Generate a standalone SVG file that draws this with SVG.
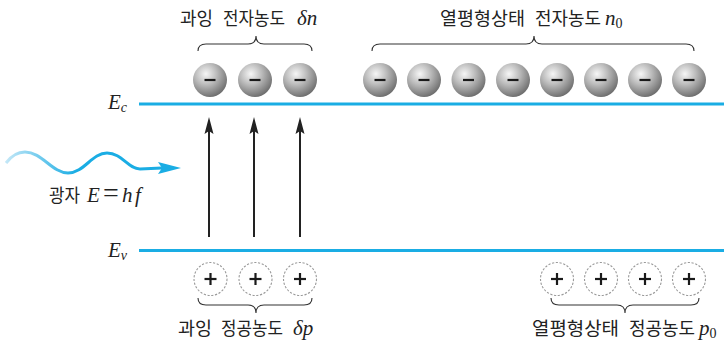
<svg xmlns="http://www.w3.org/2000/svg" width="724" height="345" viewBox="0 0 724 345">
<style>
.kr{font-family:"Noto Sans CJK KR","Noto Sans",sans-serif;font-size:18px;fill:#222}
.m{font-family:"Liberation Serif","Times New Roman",serif;font-style:italic;font-size:21px;fill:#222}
.r{font-family:"Liberation Serif","Times New Roman",serif;font-style:normal;fill:#222}
.lvl{stroke:#1aade4;stroke-width:3;fill:none}
.brace{stroke:#333;stroke-width:1.1;fill:none}
.hole{fill:#fff;stroke:#9a9a9a;stroke-width:1.1;stroke-dasharray:2.2 1.6}
.sign{stroke:#1a1a1a;stroke-width:2.2;fill:none}
.arr{stroke:#222;stroke-width:2;fill:none}
</style>
<defs>
<radialGradient id="ball" cx="0.38" cy="0.32" r="0.7">
<stop offset="0" stop-color="#f6f6f6"/>
<stop offset="0.45" stop-color="#bcbcbc"/>
<stop offset="1" stop-color="#6e6e6e"/>
</radialGradient>
<linearGradient id="wave" x1="0" y1="0" x2="1" y2="0">
<stop offset="0" stop-color="#c3e7f7"/>
<stop offset="0.45" stop-color="#1aade4"/>
<stop offset="1" stop-color="#1aade4"/>
</linearGradient>
<g id="e"><circle r="17" fill="url(#ball)"/><line x1="-5.5" y1="0" x2="5.5" y2="0" class="sign"/></g>
<g id="h"><circle r="16.5" class="hole"/><line x1="-6" y1="0" x2="6" y2="0" class="sign"/><line x1="0" y1="-6" x2="0" y2="6" class="sign"/></g>
</defs>
<rect width="724" height="345" fill="#fff"/>
<g id="levels">
<line x1="139" y1="104" x2="724" y2="104" class="lvl"/>
<line x1="139" y1="250.5" x2="724" y2="250.5" class="lvl"/>
<text class="m" x="108" y="109">E<tspan font-size="14" dy="3">c</tspan></text>
<text class="m" x="108" y="257">E<tspan font-size="14" dy="3">v</tspan></text>
</g>
<g id="excess-electrons">
<use href="#e" x="210" y="80"/><use href="#e" x="255" y="80"/><use href="#e" x="300" y="80"/>
<path class="brace" d="M198,51 Q198,44 206,44 L248,44 Q256,44 256,36 Q256,44 264,44 L304,44 Q312,44 312,51"/>
<text class="kr" x="180" y="25" textLength="33" lengthAdjust="spacingAndGlyphs">과잉</text>
<text class="kr" x="223" y="25" textLength="62" lengthAdjust="spacingAndGlyphs">전자농도</text>
<text class="m" x="297" y="25">δn</text>
</g>
<g id="equilibrium-electrons">
<use href="#e" x="380" y="80"/><use href="#e" x="424" y="80"/><use href="#e" x="468.5" y="80"/><use href="#e" x="513" y="80"/>
<use href="#e" x="557" y="80"/><use href="#e" x="601" y="80"/><use href="#e" x="645" y="80"/><use href="#e" x="689" y="80"/>
<path class="brace" d="M372,51 Q372,44 380,44 L526,44 Q534,44 534,36 Q534,44 542,44 L686,44 Q694,44 694,51"/>
<text class="kr" x="440" y="25" textLength="85" lengthAdjust="spacingAndGlyphs">열평형상태</text>
<text class="kr" x="535" y="25" textLength="66" lengthAdjust="spacingAndGlyphs">전자농도</text>
<text class="m" x="605" y="25">n<tspan class="r" font-size="14" dy="3">0</tspan></text>
</g>
<g id="excess-holes">
<use href="#h" x="210.5" y="279"/><use href="#h" x="255.5" y="279"/><use href="#h" x="300" y="279"/>
<path class="brace" d="M198,298 Q198,305 206,305 L248,305 Q256,305 256,313 Q256,305 264,305 L304,305 Q312,305 312,298"/>
<text class="kr" x="178" y="335" textLength="34" lengthAdjust="spacingAndGlyphs">과잉</text>
<text class="kr" x="221" y="335" textLength="62" lengthAdjust="spacingAndGlyphs">정공농도</text>
<text class="m" x="293" y="335">δp</text>
</g>
<g id="equilibrium-holes">
<use href="#h" x="557" y="279"/><use href="#h" x="601" y="279"/><use href="#h" x="645" y="279"/><use href="#h" x="689" y="279"/>
<path class="brace" d="M551,298 Q551,305 559,305 L617,305 Q625,305 625,313 Q625,305 633,305 L691,305 Q699,305 699,298"/>
<text class="kr" x="532" y="335" textLength="87" lengthAdjust="spacingAndGlyphs">열평형상태</text>
<text class="kr" x="629" y="335" textLength="66" lengthAdjust="spacingAndGlyphs">정공농도</text>
<text class="m" x="699" y="335">p<tspan class="r" font-size="14" dy="3">0</tspan></text>
</g>
<g id="photon">
<path d="M6,163 C12,155 18,152 25,152 C42,152 52,173 68,173 C84,173 92,153 107,153 C122,153 128,169 140,169 L162,168" stroke="url(#wave)" stroke-width="3" fill="none"/>
<polygon points="181,168 158,162 162,168 158,174" fill="#1aade4"/>
<text class="kr" x="49" y="202" textLength="31" lengthAdjust="spacingAndGlyphs">광자</text>
<text class="m" x="87" y="202">E<tspan class="r" x="103" font-size="28">=</tspan><tspan x="122">h</tspan><tspan x="135">f</tspan></text>
</g>
<g id="connectors">
<line x1="209" y1="237" x2="209" y2="128" class="arr"/>
<polygon points="209,117 204.5,134 209,131 213.5,134" fill="#222"/>
<line x1="254" y1="237" x2="254" y2="128" class="arr"/>
<polygon points="254,117 249.5,134 254,131 258.5,134" fill="#222"/>
<line x1="300" y1="237" x2="300" y2="128" class="arr"/>
<polygon points="300,117 295.5,134 300,131 304.5,134" fill="#222"/>
</g>
</svg>
